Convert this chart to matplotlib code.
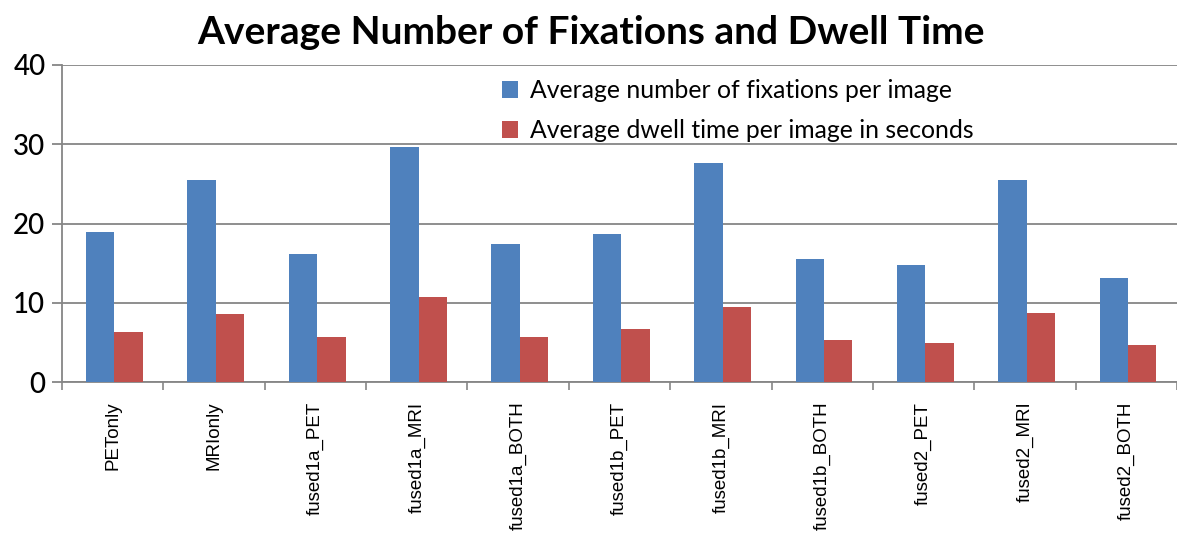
import numpy as np
import matplotlib.pyplot as plt

categories = ['PETonly', 'MRIonly', 'fused1a_PET', 'fused1a_MRI', 'fused1a_BOTH',
              'fused1b_PET', 'fused1b_MRI', 'fused1b_BOTH', 'fused2_PET',
              'fused2_MRI', 'fused2_BOTH']
fixations = [18.9, 25.5, 16.2, 29.7, 17.4, 18.65, 27.7, 15.6, 14.8, 25.5, 13.2]
dwell_time = [6.3, 8.6, 5.75, 10.75, 5.75, 6.75, 9.5, 5.3, 4.9, 8.75, 4.7]

blue = '#4F81BD'
red = '#C0504D'
grid_c = '#868686'

fig = plt.figure(figsize=(11.77, 5.36), dpi=100)
ax = fig.add_axes([0.0527, 0.2868, 0.9473, 0.592])

x = np.arange(len(categories))
w = 0.28
ax.bar(x - w / 2 + 0.017, fixations, w, color=blue, label='Average number of fixations per image', zorder=3)
ax.bar(x + w / 2 + 0.017, dwell_time, w, color=red, label='Average dwell time per image in seconds', zorder=3)

ax.set_xlim(-0.5, 10.5)
ax.set_ylim(0, 40)
ax.set_yticks([0, 10, 20, 30, 40])
ax.set_yticklabels(['0', '10', '20', '30', '40'], fontfamily='Lato', fontsize=20, fontweight='medium')
ax.yaxis.grid(True, color=grid_c, linewidth=1.3, zorder=0)
ax.tick_params(axis='y', length=7, width=1.3, color=grid_c, pad=5)

# labels at group centres, tick marks between groups
ax.set_xticks(x)
ax.set_xticklabels(categories, rotation=90, fontfamily='Liberation Sans', fontsize=13.5)
ax.tick_params(axis='x', which='major', length=0, pad=14)
ax.set_xticks(np.arange(-0.5, 11, 1), minor=True)
ax.tick_params(axis='x', which='minor', length=6, width=1.2, color=grid_c, direction='out')

for s in ['top', 'right']:
    ax.spines[s].set_visible(False)
for s in ['left', 'bottom']:
    ax.spines[s].set_color(grid_c)
    ax.spines[s].set_linewidth(1.3)

leg = ax.legend(loc='upper left', bbox_to_anchor=(0.375, 1.025), frameon=False,
                prop={'family': 'Lato', 'size': 17.8}, handlelength=0.65, handleheight=0.65,
                handletextpad=0.45, labelspacing=0.68)

fig.text(0.502, 0.94, 'Average Number of Fixations and Dwell Time', ha='center', va='center',
         fontfamily='Lato', fontweight='bold', fontsize=28)

fig.savefig('out.png', dpi=100)
